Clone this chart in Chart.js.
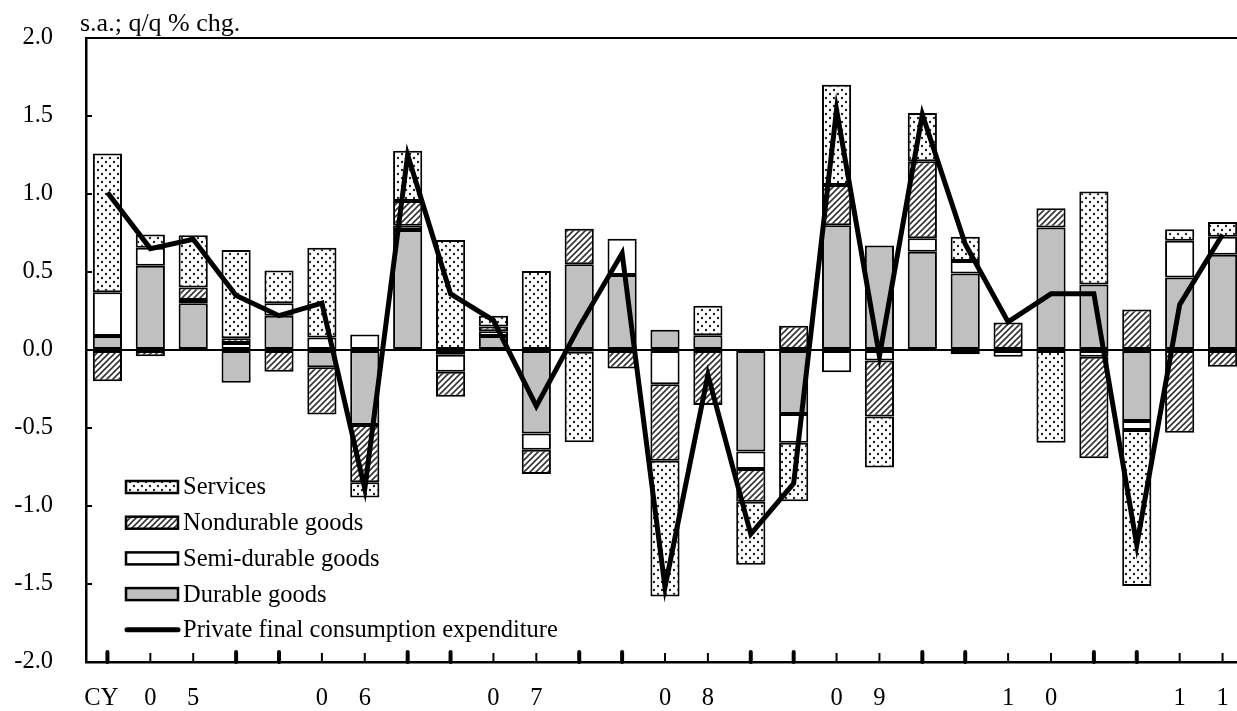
<!DOCTYPE html>
<html>
<head>
<meta charset="utf-8">
<script src="https://cdn.jsdelivr.net/npm/chart.js@4.4.1/dist/chart.umd.min.js"></script>
<style>
  html, body { margin: 0; padding: 0; background: #fff; overflow: hidden; }
  #wrap { width: 1237px; height: 711px; position: relative; overflow: hidden; }
  #c { position: absolute; left: 0; top: 0; }
</style>
</head>
<body>
<div id="wrap"><canvas id="c" width="1244" height="711"></canvas></div>
<script>
// ---- data ----
const quarters = [
  '2005Q1','2005Q2','2005Q3','2005Q4',
  '2006Q1','2006Q2','2006Q3','2006Q4',
  '2007Q1','2007Q2','2007Q3','2007Q4',
  '2008Q1','2008Q2','2008Q3','2008Q4',
  '2009Q1','2009Q2','2009Q3','2009Q4',
  '2010Q1','2010Q2','2010Q3','2010Q4',
  '2011Q1','2011Q2','2011Q3'
];
const tickLabels = [
  'CY\u00a0\u00a0','0','5','',
  '','0','6','',
  '','0','7','',
  '','0','8','',
  '','0','9','',
  '','1','0','',
  '','1','1'
];
const durable = [
  0.09, 0.54, 0.30, -0.21,
  0.22, -0.11, -0.48, 0.77,
  -0.03, 0.09, -0.535, 0.55,
  0.48, 0.13, 0.095, -0.65,
  -0.41, 0.80, 0.67, 0.63,
  0.49, null, 0.785, 0.42,
  -0.455, 0.465, 0.61
];
const semiDurable = [
  0.28, 0.115, 0.02, 0.045,
  0.08, 0.08, 0.10, 0.027,
  -0.11, 0.03, -0.105, -0.012,
  0.233, -0.22, null, -0.113,
  -0.184, -0.143, -0.068, 0.086,
  0.08, -0.043, null, -0.043,
  -0.058, 0.235, 0.116
];
const nondurable = [
  -0.20, -0.04, 0.08, 0.03,
  -0.14, -0.303, -0.368, 0.158,
  -0.16, 0.03, -0.155, 0.228,
  -0.118, -0.49, -0.353, -0.21,
  0.156, 0.258, -0.359, 0.494,
  -0.027, 0.177, 0.124, -0.651,
  0.26, -0.53, -0.107
];
const services = [
  0.89, 0.086, 0.335, 0.566,
  0.21, 0.576, -0.098, 0.323,
  0.705, 0.07, 0.506, -0.58,
  null, -0.87, 0.188, -0.404,
  -0.376, 0.642, -0.327, 0.31,
  0.156, null, -0.594, 0.596,
  -1.0, 0.074, 0.094
];
const pfce = [
  1.01, 0.65, 0.71, 0.35,
  0.22, 0.30, -0.89, 1.25,
  0.36, 0.19, -0.36, 0.15,
  0.62, -1.52, -0.16, -1.18,
  -0.855, 1.54, -0.04, 1.51,
  0.68, 0.18, 0.36, 0.36,
  -1.25, 0.29, 0.74
];
const legendLabels = ['Services','Nondurable goods','Semi-durable goods','Durable goods','Private final consumption expenditure'];

// ---- patterns ----
function dotPattern() {
  const s = 8;
  const c = document.createElement('canvas'); c.width = s; c.height = s;
  const g = c.getContext('2d');
  g.fillStyle = '#fff'; g.fillRect(0, 0, s, s);
  g.fillStyle = '#222';
  [[2, 2], [6, 6]].forEach(([px, py]) => { g.beginPath(); g.arc(px, py, 1.2, 0, Math.PI * 2); g.fill(); });
  return g.createPattern(c, 'repeat');
}
function hatchPattern() {
  const s = 6;
  const c = document.createElement('canvas'); c.width = s; c.height = s;
  const g = c.getContext('2d');
  g.fillStyle = '#fff'; g.fillRect(0, 0, s, s);
  g.strokeStyle = '#333'; g.lineWidth = 1.6;
  g.beginPath();
  g.moveTo(0, s); g.lineTo(s, 0);
  g.moveTo(-1, 1); g.lineTo(1, -1);
  g.moveTo(s - 1, s + 1); g.lineTo(s + 1, s - 1);
  g.stroke();
  return g.createPattern(c, 'repeat');
}
const DOTS = dotPattern();
const HATCH = hatchPattern();
const GRAY = '#c0c0c0';
const FONT = "'Liberation Serif', 'Times New Roman', serif";

Chart.defaults.font.family = FONT;
Chart.defaults.color = '#000';

const barCommon = {
  type: 'bar', borderColor: '#000', borderWidth: 2, borderSkipped: false,
  barPercentage: 0.68, categoryPercentage: 1.0, order: 1, stack: 'parts'
};

const decor = {
  id: 'decor',
  afterDraw(chart) {
    const { ctx, chartArea: a, scales: { x, y } } = chart;
    ctx.save();
    ctx.strokeStyle = '#000';
    // bottom tick marks (inside)
    quarters.forEach((q, i) => {
      const px = x.getPixelForValue(i);
      const major = (i % 4 === 0 || i % 4 === 3);
      ctx.lineWidth = major ? 4 : 2;
      ctx.lineCap = major ? 'round' : 'butt';
      ctx.beginPath();
      ctx.moveTo(px, a.bottom);
      ctx.lineTo(px, a.bottom - (major ? 10 : 9));
      ctx.stroke();
    });
    // left tick marks (inside)
    ctx.lineCap = 'butt';
    ctx.lineWidth = 2;
    y.ticks.forEach(t => {
      const py = y.getPixelForValue(t.value);
      ctx.beginPath(); ctx.moveTo(a.left, py); ctx.lineTo(a.left + 6, py); ctx.stroke();
    });
    // unit title
    ctx.fillStyle = '#000';
    ctx.font = '26px ' + FONT;
    ctx.textAlign = 'left'; ctx.textBaseline = 'alphabetic';
    ctx.fillText('s.a.; q/q % chg.', 80, 31);
    // legend
    ctx.font = '24.5px ' + FONT;
    const fills = [DOTS, HATCH, '#fff', GRAY];
    const lx = a.left + 40, lw = 52, tx = a.left + 97;
    ctx.textBaseline = 'middle';
    legendLabels.forEach((lab, i) => {
      const cy = a.bottom - 175 + i * 35.7;
      if (i < 4) {
        ctx.fillStyle = fills[i];
        ctx.fillRect(lx, cy - 6, lw, 12);
        ctx.lineWidth = 2.5; ctx.strokeStyle = '#000';
        ctx.strokeRect(lx, cy - 6, lw, 12);
      } else {
        ctx.lineWidth = 5; ctx.lineCap = 'round'; ctx.strokeStyle = '#000';
        ctx.beginPath(); ctx.moveTo(lx + 1, cy); ctx.lineTo(lx + lw, cy); ctx.stroke();
      }
      ctx.fillStyle = '#000';
      ctx.fillText(lab, tx, cy + 1);
    });
    ctx.restore();
  }
};

new Chart(document.getElementById('c'), {
  data: {
    labels: quarters,
    datasets: [
      { type: 'line', label: legendLabels[4], data: pfce, borderColor: '#000', borderWidth: 5,
        pointRadius: 0, tension: 0, borderJoinStyle: 'miter', order: 0, stack: 'total', fill: false },
      Object.assign({ label: legendLabels[3], data: durable, backgroundColor: GRAY }, barCommon),
      Object.assign({ label: legendLabels[2], data: semiDurable, backgroundColor: '#fff' }, barCommon),
      Object.assign({ label: legendLabels[1], data: nondurable, backgroundColor: HATCH }, barCommon),
      Object.assign({ label: legendLabels[0], data: services, backgroundColor: DOTS }, barCommon)
    ]
  },
  options: {
    responsive: false,
    animation: false,
    devicePixelRatio: 1,
    layout: { padding: { top: 38, right: 0, bottom: 0, left: 0 } },
    plugins: { legend: { display: false }, tooltip: { enabled: false } },
    scales: {
      x: {
        stacked: true,
        offset: true,
        grid: { display: false, drawTicks: false },
        border: { display: true, color: '#000', width: 2.5 },
        ticks: {
          autoSkip: false, maxRotation: 0, minRotation: 0, padding: 22,
          font: { size: 24.5, family: FONT }, color: '#000',
          callback: (v, i) => tickLabels[i]
        },
        afterFit: s => { s.height = 49; s.paddingLeft = 0; s.paddingRight = 0; }
      },
      y: {
        stacked: true,
        min: -2, max: 2,
        grid: {
          drawTicks: false,
          color: c => (c.tick && (c.tick.value === 0 || c.tick.value === 2)) ? '#000' : 'rgba(0,0,0,0)',
          lineWidth: 2
        },
        border: { display: true, color: '#000', width: 2.5 },
        ticks: {
          stepSize: 0.5, padding: 33,
          font: { size: 24.5, family: FONT }, color: '#000',
          callback: v => Number(v).toFixed(1)
        },
        afterFit: s => { s.width = 86; s.paddingTop = 0; s.paddingBottom = 0; }
      }
    }
  },
  plugins: [decor]
});
</script>
</body>
</html>
